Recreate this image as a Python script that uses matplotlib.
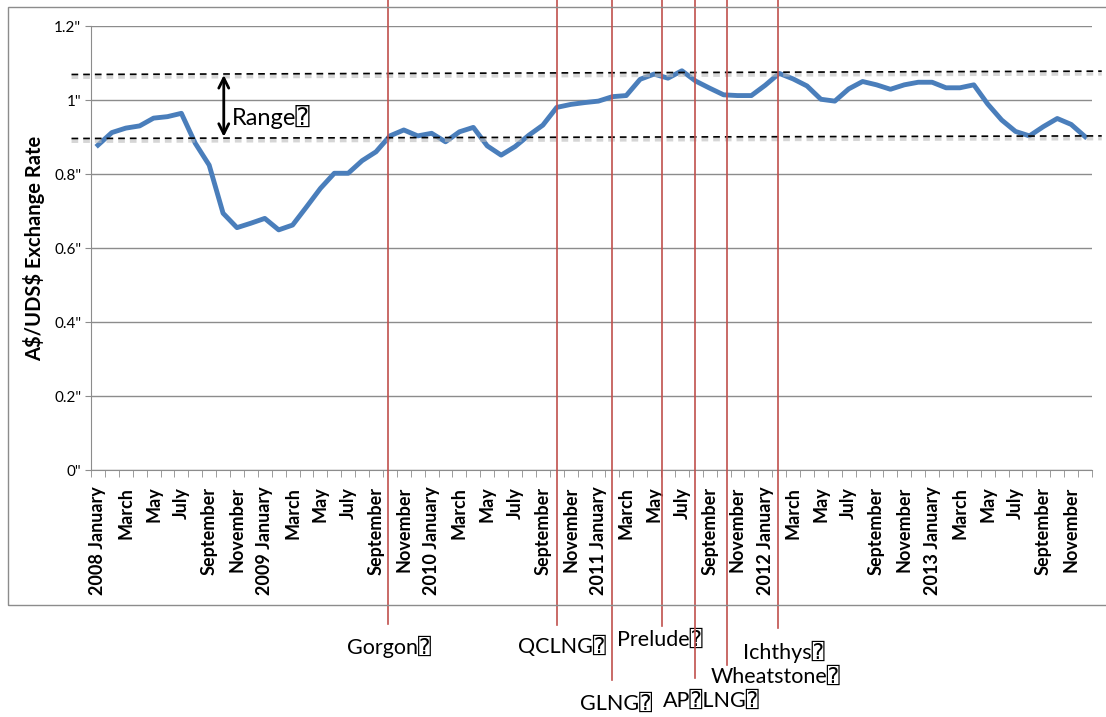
import matplotlib
matplotlib.use('Agg')
import numpy as np
from matplotlib import pyplot as plt
from matplotlib import patheffects as pe
from matplotlib.patches import Rectangle

plt.rcParams['font.family'] = ['Lato', 'DejaVu Sans', 'DejaVu Sans Mono']

BOX = '\u2370'

# monthly A$/US$ rate, Jan 2008 .. Dec 2013
rate = [0.878, 0.912, 0.924, 0.930, 0.951, 0.955, 0.964, 0.883, 0.824, 0.694, 0.655, 0.667,
        0.680, 0.649, 0.662, 0.711, 0.761, 0.802, 0.802, 0.836, 0.860, 0.903, 0.919, 0.903,
        0.910, 0.887, 0.914, 0.926, 0.876, 0.851, 0.874, 0.905, 0.932, 0.980, 0.988, 0.993,
        0.997, 1.009, 1.012, 1.056, 1.070, 1.059, 1.079, 1.051, 1.032, 1.014, 1.012, 1.012,
        1.040, 1.072, 1.057, 1.038, 1.002, 0.997, 1.030, 1.050, 1.041, 1.029, 1.041, 1.048,
        1.048, 1.033, 1.033, 1.041, 0.989, 0.946, 0.915, 0.903, 0.928, 0.950, 0.934, 0.901]
months = ['January', 'February', 'March', 'April', 'May', 'June', 'July',
          'August', 'September', 'October', 'November', 'December']
years = [2008, 2009, 2010, 2011, 2012, 2013]
tick_labels = []
for y in years:
    for m in months:
        tick_labels.append(f'{y} {m}' if m == 'January' else m)

# project FID dates (month index) and names
projects = ['Gorgon', 'QCLNG', 'GLNG', 'Prelude', 'AP' + BOX + 'LNG', 'Wheatstone', 'Ichthys']
project_month = [20.85, 33.05, 36.95, 40.6, 42.95, 45.25, 48.95]
# band of the range
range_low = [0.896, 0.903]
range_high = [1.069, 1.078]

# layout for the project labels (line bottom / label pos in data units)
line_bottom = [-0.415, -0.418, -0.568, -0.422, -0.562, -0.527, -0.427]
label_x = [20.95, 33.4, 37.3, 40.4, 44.1, 48.75, 49.3]
label_y = [-0.478, -0.478, -0.632, -0.459, -0.623, -0.558, -0.492]

fig = plt.figure(figsize=(11.06, 7.17), dpi=100)
fig.patches.append(Rectangle((8 / 1106, 112 / 717), 1.2, 598 / 717, transform=fig.transFigure,
                             fill=False, edgecolor='#8c8c8c', lw=1.0, zorder=0))
ax = fig.add_axes([91 / 1106, 247 / 717, 1001 / 1106, 444 / 717])

x = np.arange(len(rate))
ax.set_xlim(-0.5, len(rate) - 0.5)
ax.set_ylim(0, 1.2)
ax.set_yticks([0, 0.2, 0.4, 0.6, 0.8, 1.0, 1.2])
ax.set_yticklabels(['0"', '0.2"', '0.4"', '0.6"', '0.8"', '1"', '1.2"'], fontsize=11)
ax.set_xticks(x[::2])
ax.set_xticklabels(tick_labels[::2], rotation=90, fontsize=13, fontweight='bold')
ax.set_xticks(np.arange(len(rate) + 1) - 0.5, minor=True)
ax.tick_params(axis='x', which='major', length=0, pad=12)
ax.tick_params(axis='x', which='minor', length=5, color='#8c8c8c', direction='out')
ax.tick_params(axis='y', length=4, color='#8c8c8c', pad=3)
ax.grid(axis='y', color='#8c8c8c', lw=1.0)
ax.set_axisbelow(True)
for s in ['top', 'right']:
    ax.spines[s].set_visible(False)
for s in ['left', 'bottom']:
    ax.spines[s].set_color('#8c8c8c')
ax.set_ylabel('A\\$/UDS\\$ Exchange Rate', fontsize=14.5, fontweight='bold')
ax.yaxis.set_label_coords(-0.046, 0.5)

ax.plot(x, rate, color='#4A7EBB', lw=3.5, solid_joinstyle='round', zorder=3)

# dashed range lines with a soft shadow
shadow = [pe.SimpleLineShadow(offset=(0, -1.5), shadow_color='#bbbbbb', alpha=0.6, linewidth=3.5),
          pe.Normal()]
for band in (range_low, range_high):
    ax.plot([-1.9, 72.2], band, color='black', ls=(0, (4, 3)), lw=1.2, clip_on=False,
            path_effects=shadow, zorder=4)

ax.annotate('', xy=(9.05, range_high[0] + 0.006), xytext=(9.05, range_low[0] - 0.003),
            arrowprops=dict(arrowstyle='<->', color='black', lw=2, mutation_scale=18), zorder=5)
ax.text(9.6, 0.955, 'Range' + BOX, fontsize=17, va='center', ha='left', zorder=5)

for name, m, bot, lx, ly in zip(projects, project_month, line_bottom, label_x, label_y):
    ax.plot([m, m], [bot, 1.272], color='#C0504D', lw=1.2, clip_on=False, zorder=6)
    ax.text(lx, ly, name + BOX, fontsize=15.5, ha='center', va='center', clip_on=False)

fig.savefig('out.png', dpi=100)
